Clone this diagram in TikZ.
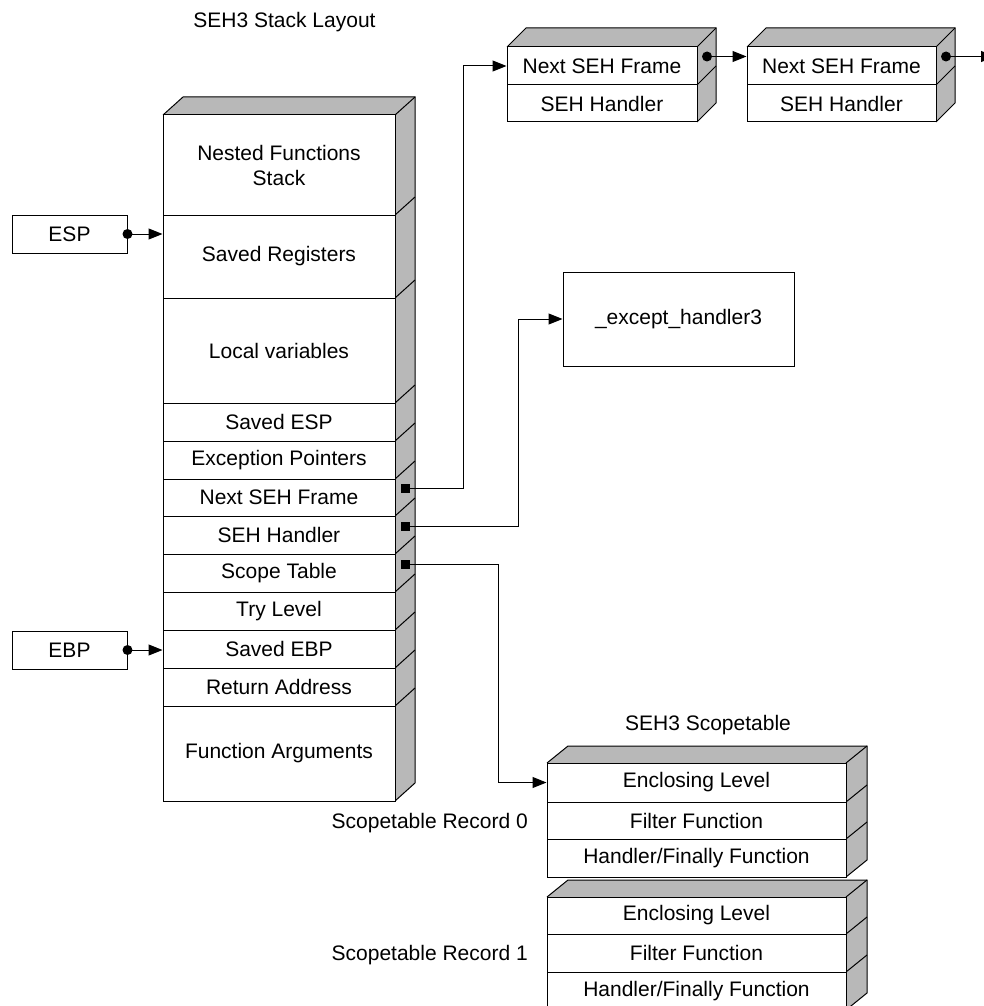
\documentclass[tikz,border=0pt]{standalone}
\usepackage{fontspec}
\setmainfont{Liberation Sans}
\usetikzlibrary{arrows.meta,calc}
\newcommand{\sidefaces}[6]{% x1 y1 x2 y2 dx dy : front rect (x1,y1)-(x2,y2), depth (dx,dy)
  \fill[sidefill] (#1,#2) -- ++(#5,-#6) -- (#3+#5,#2-#6) -- (#3+#5,#4-#6) -- (#3,#4) -- (#3,#2) -- cycle;
  \draw[edge] (#1,#2) -- ++(#5,-#6) -- (#3+#5,#2-#6) -- (#3+#5,#4-#6) -- (#3,#4);
  \draw[edge] (#3,#2) -- ++(#5,-#6);
}
\newcommand{\sidediag}[4]{\draw[edge] (#1,#2) -- ++(#3,-#4);}
\begin{document}
\begin{tikzpicture}[x=1pt,y=-1pt,
  edge/.style={line width=1pt,black},
  sidefill/.style={fill=black!28},
  cell/.style={draw,line width=1pt,fill=white,inner sep=0pt,align=center,
    font=\fontsize{21}{25}\selectfont},
  lbl/.style={inner sep=0pt,font=\fontsize{21}{25}\selectfont},
  ptr/.style={line width=1pt,-{Triangle[length=14pt,width=11pt]}},
  sq/.style={fill=black,minimum size=9pt,inner sep=0pt},
  dotm/.style={circle,fill=black,minimum size=10pt,inner sep=0pt}]
\useasboundingbox (0,0) rectangle (984,1006);

% titles
\node[lbl] (t1) at (284.5,22) {SEH3 Stack Layout};
\node[lbl] (t2) at (708,725) {SEH3 Scopetable};
\node[lbl,anchor=east] (r0) at (528,823) {Scopetable Record 0};
\node[lbl,anchor=east] (r1) at (528,955) {Scopetable Record 1};

% stack
\sidefaces{163}{115}{395}{801}{20}{18}
\foreach \yy in {215,298,403,441,479,516,554,592,630,668,706}{\sidediag{395}{\yy}{20}{18}}
\node[cell,minimum width=232,minimum height=100] (nfs)   at (279,165)   {Nested Functions\\Stack};
\node[cell,minimum width=232,minimum height=83]  (sreg)  at (279,256.5) {Saved Registers};
\node[cell,minimum width=232,minimum height=105] (lvar)  at (279,350.5) {Local variables};
\node[cell,minimum width=232,minimum height=38]  (sesp)  at (279,422)   {Saved ESP};
\node[cell,minimum width=232,minimum height=38]  (exc)   at (279,460)   {Exception Pointers};
\node[cell,minimum width=232,minimum height=37]  (nsf)   at (279,497.5) {Next SEH Frame};
\node[cell,minimum width=232,minimum height=38]  (sehh)  at (279,535)   {SEH Handler};
\node[cell,minimum width=232,minimum height=38]  (scope) at (279,573)   {Scope Table};
\node[cell,minimum width=232,minimum height=38]  (try)   at (279,611)   {Try Level};
\node[cell,minimum width=232,minimum height=38]  (sebp)  at (279,649)   {Saved EBP};
\node[cell,minimum width=232,minimum height=38]  (ret)   at (279,687)   {Return Address};
\node[cell,minimum width=232,minimum height=95]  (args)  at (279,753.5) {Function Arguments};

% registers
\node[cell,minimum width=115,minimum height=38] (esp) at (69.5,234) {ESP};
\node[cell,minimum width=115,minimum height=38] (ebp) at (69.5,650) {EBP};

% SEH frame chain
\sidefaces{507}{47}{697}{122}{19}{19}
\sidediag{697}{85}{19}{19}
\node[cell,minimum width=190,minimum height=38] (f1a) at (602,66)    {Next SEH Frame};
\node[cell,minimum width=190,minimum height=37] (f1b) at (602,103.5) {SEH Handler};
\sidefaces{747}{47}{936}{122}{19}{19}
\sidediag{936}{85}{19}{19}
\node[cell,minimum width=189,minimum height=38] (f2a) at (841.5,66)    {Next SEH Frame};
\node[cell,minimum width=189,minimum height=37] (f2b) at (841.5,103.5) {SEH Handler};

% except handler
\node[cell,minimum width=231,minimum height=94] (exh) at (678.5,319) {\_except\_handler3};

% scopetable records
\sidefaces{547}{763}{846}{877}{21}{17}
\foreach \yy in {802,839}{\sidediag{846}{\yy}{21}{17}}
\node[cell,minimum width=299,minimum height=39] (r0a) at (696.5,782.5) {Enclosing Level};
\node[cell,minimum width=299,minimum height=37] (r0b) at (696.5,820.5) {Filter Function};
\node[cell,minimum width=299,minimum height=38] (r0c) at (696.5,858)   {Handler/Finally Function};
\sidefaces{547}{897}{846}{1010}{21}{17}
\foreach \yy in {934,972}{\sidediag{846}{\yy}{21}{17}}
\node[cell,minimum width=299,minimum height=37] (r1a) at (696.5,915.5) {Enclosing Level};
\node[cell,minimum width=299,minimum height=38] (r1b) at (696.5,953)   {Filter Function};
\node[cell,minimum width=299,minimum height=38] (r1c) at (696.5,991)   {Handler/Finally Function};

% pointer markers
\node[dotm] (espd) at (esp.east) {};
\node[dotm] (ebpd) at (ebp.east) {};
\node[sq] (nsfp) at ($(nsf.east)+(10,-9)$) {};
\node[sq] (sehp) at ($(sehh.east)+(10,-9)$) {};
\node[sq] (scpp) at ($(scope.east)+(10,-9)$) {};
\node[dotm] (f1d) at ($(f1a.east)+(9.5,-9.5)$) {};
\node[dotm] (f2d) at ($(f2a.east)+(9.5,-9.5)$) {};
\coordinate (j1) at (463,66);
\coordinate (j2) at (518,319);
\coordinate (j3) at (498,782.5);
\coordinate (chainend) at (995,56.5);

% connectors
\draw[ptr] (espd.center) -- (sreg.west |- esp.east);
\draw[ptr] (ebpd.center) -- (sebp.west |- ebp.east);
\draw[ptr] (nsfp.center) -| (j1) -- (f1a.west);
\draw[ptr] (sehp.center) -| (j2) -- (exh.west);
\draw[ptr] (scpp.center) -| (j3) -- (r0a.west);
\draw[ptr] (f1d.center) -- (f1d.center -| f2a.west);
\draw[ptr] (f2d.center) -- (chainend);
\end{tikzpicture}
\end{document}
